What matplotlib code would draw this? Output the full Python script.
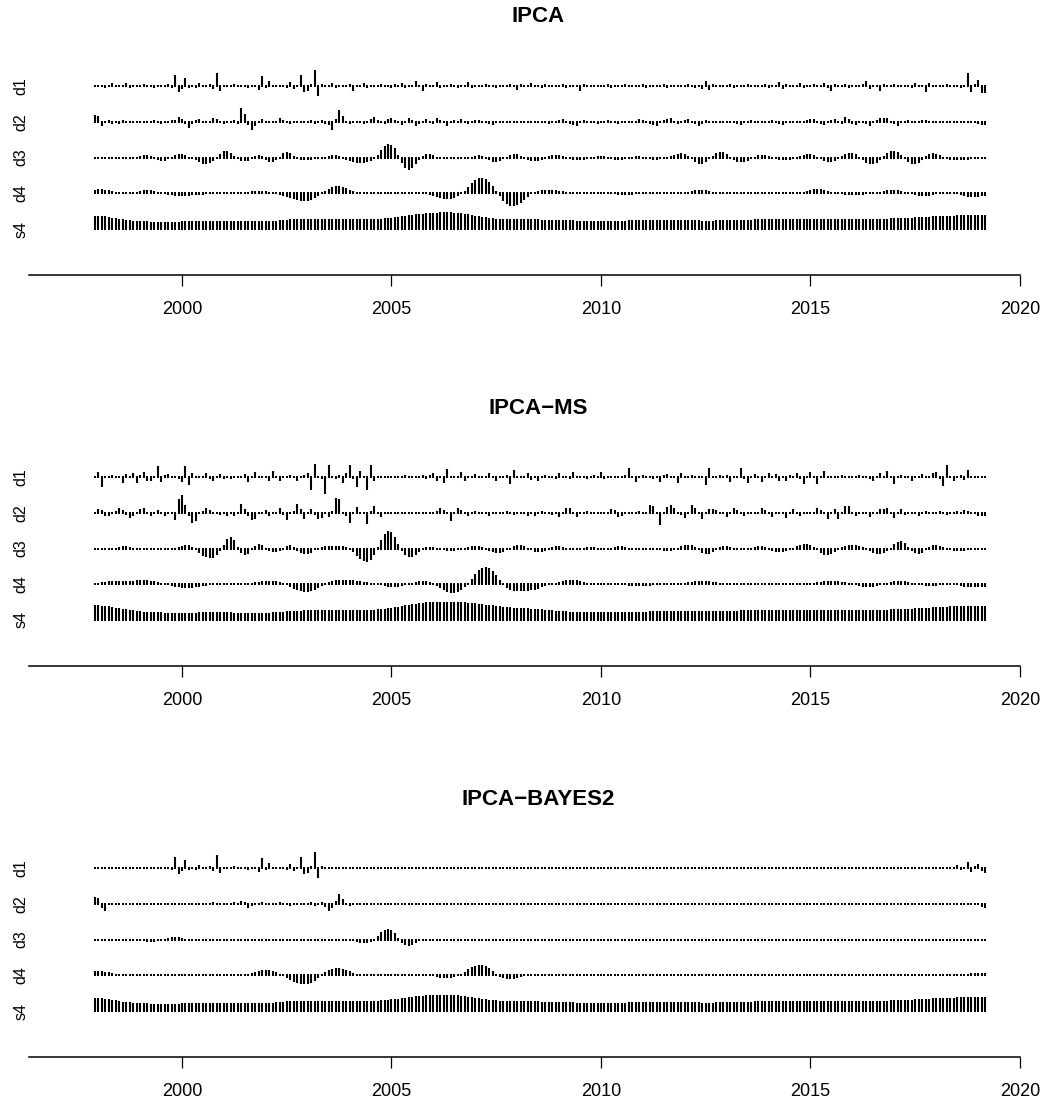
import numpy as np
import matplotlib
matplotlib.use("Agg")
from matplotlib import pyplot as plt

plt.rcParams["font.family"] = ["Liberation Sans", "DejaVu Sans"]

# monthly series, first observation Dec 1997
start_year = 1997 + 11 / 12
titles = ["IPCA", "IPCA\u2212MS", "IPCA\u2212BAYES2"]
levels = ["d1", "d2", "d3", "d4", "s4"]
year_ticks = [2000, 2005, 2010, 2015, 2020]

# MRA components (scaled units)
ipca_d1 = [
    1, 0, 1, -2, 1, 3, -1, 0, 1, 3, -2, 1,
    -1, 0, 2, -1, 1, -2, 0, 1, -1, 2, -2, 11,
    -6, -3, 8, -2, 1, -2, 3, -1, 0, 2, -3, 13,
    -5, 1, -1, 0, 2, -1, 0, 1, -2, 1, -1, -4,
    10, -2, 5, -1, 1, -1, 0, -2, 4, -3, 1, 11,
    -6, -5, 2, 16, -10, 2, 1, -1, 3, -2, 0, 1,
    -1, 2, -5, 1, 0, 3, -2, 1, -1, 0, 2, -1,
    1, -2, 2, -1, 3, -2, 1, 0, 5, -1, -5, 2,
    -1, 1, 4, -2, 1, -1, 2, 0, -2, 1, -1, 4,
    -2, 1, 0, -1, 2, -1, 1, -2, 0, 1, -1, 2,
    -1, -4, 2, 0, -1, 3, -1, 1, -2, 2, 0, -1,
    1, -1, 2, -2, 1, 0, -1, -5, 2, 1, -1, 0,
    1, -1, 0, 2, -2, 1, 0, -1, 2, -1, 1, 0,
    -1, 2, -2, 1, 0, 1, -1, 2, -2, 1, 0, -1,
    1, -1, 2, 0, -2, 1, -3, 5, -4, 2, -1, 1,
    0, -1, 2, -2, 1, 0, -1, 2, -1, 1, 0, -1,
    2, -2, 1, 0, 4, -3, 2, -1, 1, 0, 3, -2,
    1, -1, 2, -1, 0, 3, -2, -5, 2, 1, -1, 2,
    -2, 1, 0, -1, 2, 5, -3, 1, 0, -5, 2, 1,
    -1, 2, 0, -1, 1, 0, -2, 3, -1, 1, -6, 3,
    -1, 1, 0, -1, 2, -1, 1, 0, -2, 1, 13, -6,
    2, 6, -7, -7,
]
ipca_d2 = [
    7, 6, -4, -1, 2, -2, 1, -2, 2, 1, 0, 0,
    -1, 1, 0, 0, 1, 2, 1, -2, -1, -1, 2, 2,
    5, 3, -2, -6, -2, 2, 3, 1, 0, -1, 4, 3,
    -1, -2, -1, 0, 2, -2, 14, 8, -3, -8, -4, 0,
    3, 1, 0, -1, 1, 4, 2, -1, -2, 0, 1, 1,
    -1, 1, 2, -2, -1, 2, -2, -3, -8, 3, 12, 6,
    -1, -2, -1, 0, 1, -2, 1, 3, 5, 2, -1, -2,
    3, 4, 2, -1, -3, 1, 4, 2, -4, -2, 1, 3,
    1, -2, 4, 2, -1, -4, -1, 2, 1, 3, 1, -2,
    -1, 2, 2, 1, -1, -2, -3, -1, 1, 1, 1, -1,
    -1, 0, 1, 1, 0, -1, -1, 0, 1, 0, -2, -1,
    1, 2, 3, 1, -2, -3, -4, -1, 2, 1, 0, -1,
    -2, -1, 1, 2, 1, -1, -2, -1, 1, 1, 0, 1,
    3, 2, 1, -2, -3, -4, -1, 2, 3, 4, 1, -2,
    -1, 2, 3, 1, -2, -4, -2, 2, 1, -1, 0, -1,
    1, 1, 0, -1, -2, -3, -1, 1, 2, 1, 0, -1,
    -1, 1, 2, 1, -2, -3, -1, 1, 1, 0, -1, 1,
    2, 3, 3, 1, -2, -3, -1, 2, 3, 0, -2, 5,
    3, -2, -3, -1, 1, -2, -4, -1, 2, 4, 4, 4,
    1, -2, -4, -1, 1, 2, 1, -1, -1, 2, 2, 1,
    -1, -1, 0, 1, 1, 0, -1, -1, 0, 1, 1, 0,
    -1, -2, -3, -3,
]
ipca_d3 = [
    0, -1, 0, 1, 0, -1, -1, 0, 1, 1, 0, -1,
    1, 2, 3, 3, 2, -1, -2, -3, -3, -1, 1, 3,
    4, 4, 3, 1, -1, -2, -4, -6, -6, -5, -3, 1,
    4, 7, 7, 5, 2, -1, -3, -3, -3, -1, 2, 3,
    2, -2, -4, -4, -2, 1, 5, 6, 5, 2, -1, -2,
    -2, -2, -2, -1, -1, 0, 1, 2, 3, 3, 2, 0,
    -2, -3, -4, -5, -5, -5, -4, -3, -1, 3, 8, 12,
    14, 13, 10, 3, -5, -10, -12, -10, -6, -2, 2, 4,
    4, 3, 1, 0, -1, -1, -1, 0, 0, 0, 0, 1,
    1, 2, 3, 2, 0, -2, -4, -4, -3, -1, 1, 3,
    4, 4, 2, 0, -2, -3, -3, -3, -2, 0, 2, 3,
    3, 3, 2, 0, -1, -2, -2, -2, -2, -1, 0, 1,
    2, 2, 2, 1, -1, -2, -2, -2, -1, 0, 1, 2,
    2, 1, 0, -1, -2, -2, -1, 0, 1, 2, 3, 4,
    5, 4, 2, -1, -4, -6, -6, -4, -1, 2, 5, 6,
    6, 4, 1, -2, -4, -4, -4, -3, -1, 1, 3, 3,
    3, 2, 0, -1, -2, -2, -2, -2, -1, 0, 2, 3,
    4, 4, 3, 1, -1, -3, -4, -4, -3, -1, 2, 4,
    5, 5, 4, 1, -2, -5, -6, -6, -5, -2, 2, 5,
    7, 7, 6, 3, -1, -4, -6, -6, -5, -2, 2, 4,
    5, 4, 3, 0, -1, -2, -2, -2, -2, -2, -2, -1,
    0, 1, 1, 1,
]
ipca_d4 = [
    3, 4, 4, 3, 3, 2, 1, 0, 0, 0, 0, 1,
    1, 2, 3, 3, 3, 2, 1, 0, -1, -2, -2, -3,
    -3, -3, -3, -3, -2, -2, -2, -2, -1, -1, 0, 0,
    1, 1, 1, 1, 1, 1, 1, 1, 1, 2, 2, 2,
    2, 2, 1, 0, -1, -2, -3, -4, -5, -6, -7, -8,
    -8, -8, -7, -5, -3, -1, 2, 4, 6, 7, 7, 6,
    5, 3, 2, 1, 0, 0, 0, 0, 0, 0, 0, 0,
    0, 0, 0, 0, 0, 0, 0, 0, 0, 0, 0, -1,
    -2, -3, -4, -5, -6, -6, -6, -5, -3, -1, 2, 6,
    10, 13, 15, 15, 14, 11, 7, 2, -3, -8, -11, -13,
    -13, -12, -10, -7, -4, -1, 1, 2, 3, 3, 3, 3,
    3, 2, 2, 1, 0, 0, 0, 0, 0, 0, -1, -1,
    -1, -1, -1, -1, -1, -1, -2, -2, -2, -2, -2, -1,
    -1, 0, 0, 1, 1, 1, 0, 0, 0, 0, 0, 0,
    0, 0, 1, 2, 3, 3, 3, 3, 2, 1, 0, 0,
    -1, -1, -1, -1, -1, -1, -1, -1, 0, 0, 0, 0,
    0, 0, 0, 0, 0, 0, -1, -1, -1, 0, 0, 1,
    2, 3, 4, 4, 4, 3, 2, 1, 0, -1, -1, -2,
    -2, -2, -2, -2, -2, -1, -1, 0, 0, 1, 2, 3,
    3, 3, 3, 2, 1, 0, -1, -2, -3, -3, -3, -3,
    -2, -1, 0, 1, 1, 1, 0, -1, -2, -3, -4, -4,
    -4, -4, -3, -3,
]
ipca_s4 = [
    13.5, 13.3, 13.0, 12.6, 12.1, 11.5, 10.8, 10.2, 9.6, 9.1, 8.7, 8.4,
    8.1, 7.9, 7.7, 7.6, 7.5, 7.4, 7.4, 7.3, 7.3, 7.3, 7.4, 7.4,
    7.5, 7.6, 7.7, 7.8, 7.9, 8.0, 8.1, 8.2, 8.3, 8.3, 8.4, 8.4,
    8.4, 8.4, 8.3, 8.3, 8.2, 8.1, 8.0, 7.9, 7.8, 7.7, 7.6, 7.6,
    7.6, 7.7, 7.9, 8.2, 8.5, 8.9, 9.2, 9.5, 9.7, 9.8, 9.9, 10.0,
    10.0, 10.0, 10.0, 10.0, 10.0, 10.0, 10.0, 10.0, 9.9, 9.9, 9.8, 9.8,
    9.7, 9.7, 9.6, 9.6, 9.6, 9.6, 9.7, 9.8, 9.9, 10.1, 10.3, 10.6,
    10.9, 11.3, 11.7, 12.2, 12.7, 13.2, 13.7, 14.2, 14.7, 15.1, 15.5, 15.8,
    16.1, 16.3, 16.5, 16.6, 16.7, 16.7, 16.6, 16.4, 16.1, 15.7, 15.2, 14.6,
    14.0, 13.4, 12.8, 12.2, 11.7, 11.2, 10.8, 10.5, 10.3, 10.2, 10.1, 10.0,
    10.0, 10.0, 10.0, 9.9, 9.9, 9.8, 9.7, 9.6, 9.5, 9.4, 9.3, 9.2,
    9.1, 9.0, 8.9, 8.8, 8.7, 8.6, 8.5, 8.4, 8.3, 8.3, 8.2, 8.2,
    8.2, 8.2, 8.2, 8.3, 8.3, 8.4, 8.4, 8.5, 8.5, 8.6, 8.7, 8.8,
    8.9, 9.0, 9.1, 9.2, 9.3, 9.3, 9.4, 9.4, 9.4, 9.3, 9.2, 9.1,
    9.0, 8.9, 8.8, 8.7, 8.6, 8.6, 8.5, 8.5, 8.5, 8.5, 8.6, 8.6,
    8.7, 8.8, 8.9, 9.0, 9.1, 9.2, 9.3, 9.4, 9.5, 9.6, 9.7, 9.7,
    9.8, 9.8, 9.9, 9.9, 10.0, 10.0, 10.0, 10.0, 10.0, 10.0, 9.9, 9.9,
    9.8, 9.8, 9.7, 9.7, 9.6, 9.6, 9.6, 9.6, 9.6, 9.6, 9.6, 9.7,
    9.7, 9.7, 9.8, 9.8, 9.9, 10.0, 10.0, 10.1, 10.2, 10.3, 10.4, 10.5,
    10.6, 10.7, 10.8, 11.0, 11.1, 11.3, 11.5, 11.7, 11.9, 12.1, 12.3, 12.5,
    12.7, 12.9, 13.0, 13.2, 13.3, 13.4, 13.5, 13.6, 13.6, 13.7, 13.7, 13.7,
    13.8, 13.8, 13.8, 13.8,
]

ms_d1 = [
    1, 5, -10, 1, -1, 2, -1, 1, -6, 3, -1, 4,
    -6, 2, 5, -4, -4, 1, 11, -5, 2, 3, -1, 1,
    -2, -5, 11, -8, 4, -1, 1, -1, 4, -2, -4, 1,
    3, -2, 1, -2, 1, 0, -1, 3, -5, 1, 5, -1,
    1, -1, -4, 6, -1, -4, 1, 0, 2, -1, -4, 1,
    2, 4, -13, 13, 1, -2, -17, 12, 1, -2, 2, -6,
    4, 12, -2, -10, 6, 1, -13, 12, -4, 1, 0, -1,
    1, 0, -1, 1, -1, 2, -1, 1, 0, -1, 2, -2,
    2, 4, -4, 1, -6, 8, -1, 1, -1, 5, -4, 1,
    0, 3, -1, 1, -1, 4, -1, -4, 1, 0, 2, -7,
    7, -1, 1, 0, 4, -3, 1, -4, 1, 2, -1, 1,
    -2, 4, -1, 1, -2, 5, -1, 1, 0, -2, 1, 2,
    -1, 5, -2, 1, 0, -1, 1, -1, 2, 9, -1, -5,
    1, 2, -1, 1, -2, 1, -5, 2, 3, -1, 1, -6,
    4, 1, -1, 2, -1, 1, 0, -8, 9, -1, 1, 2,
    -1, 2, -5, 1, -1, 9, -2, -6, 1, 3, -1, -5,
    1, 4, -1, 3, -4, 1, -4, 2, 1, 4, -2, -7,
    1, 5, -1, -7, 1, 6, -1, 1, 0, -1, 2, -1,
    1, 0, -1, 2, -1, 1, -2, -4, 1, 4, -1, 6,
    -1, -7, 1, 2, -1, 1, -4, 1, 0, 3, -1, 1,
    4, 5, -2, -9, 12, -1, -4, 1, 2, -3, 7, -1,
    1, 0, -1, 1,
]
ms_d2 = [
    1, 4, 3, -3, -3, 1, 2, 5, 3, -2, -5, -3,
    1, 4, 5, 1, -3, -1, 3, 1, -3, -1, -1, -7,
    14, 18, 8, -3, -10, -8, -1, 2, 5, 3, 1, -1,
    -2, 1, -3, -1, -3, 1, 9, 4, -3, -7, -6, 1,
    0, 3, -3, 0, 1, 5, -2, -7, -1, 2, 9, 4,
    -6, 1, 4, -2, -6, -5, 1, -4, 2, 15, 14, 1,
    -3, -10, 1, 6, 0, -1, -11, 2, 7, -1, -4, 1,
    1, 0, -1, 1, 0, -1, 1, 0, -1, 1, 1, -1,
    0, -1, 2, 5, 3, -1, -8, 1, 5, 3, -1, -3,
    1, 2, 0, -1, -1, -3, 0, 1, 1, 0, 2, -1,
    -2, 0, 1, -1, -3, -1, -3, 1, 2, 0, -1, -2,
    -1, -4, 1, 5, 5, -1, -4, -1, 1, 2, 0, -1,
    0, 1, 1, 0, 4, 3, -4, -3, 0, 1, 0, 1,
    2, 0, 1, 8, 7, 1, -12, 1, 6, 8, 5, -1,
    -2, -5, 1, 8, 5, -1, -6, 1, 4, 4, 3, 0,
    -1, -4, 1, 5, 3, -1, -3, 0, 1, 0, 1, 5,
    3, -1, -4, -1, 1, 0, -5, -1, 4, 1, -3, 1,
    0, 1, 1, 5, 3, 0, -6, 1, 4, -6, 1, 7,
    7, 1, -3, 0, 1, -1, -4, 1, 1, 4, 4, 5,
    1, -5, 1, 4, -2, 0, 1, 0, -3, 1, 2, 0,
    1, 0, 2, 1, -2, 0, 1, 2, 0, 3, 2, 1,
    -1, -3, -3, -3,
]
ms_d3 = [
    0, -1, -1, 0, 0, 1, 1, 2, 3, 3, 2, 0,
    -1, -1, 0, 1, 1, 0, 0, 0, 0, 1, 1, 1,
    2, 3, 4, 4, 2, -1, -4, -7, -8, -9, -9, -6,
    -2, 4, 10, 12, 9, 2, -4, -6, -5, -1, 3, 5,
    4, 1, -2, -3, -3, -2, 1, 3, 4, 2, -2, -4,
    -5, -5, -4, -1, 1, 2, 3, 3, 3, 3, 3, 3,
    2, 0, -3, -7, -10, -12, -13, -11, -6, 2, 9, 15,
    18, 17, 12, 5, -2, -6, -8, -8, -6, -3, 0, 2,
    2, 2, 1, 0, -1, -2, -2, -2, -1, 0, 1, 2,
    3, 3, 3, 2, 0, -2, -3, -4, -4, -3, -1, 1,
    3, 4, 4, 3, 1, -1, -3, -3, -3, -2, 0, 2,
    3, 3, 2, 1, -1, -1, -1, 0, 1, 2, 2, 2,
    1, 0, -1, -1, 1, 2, 3, 3, 2, 1, 0, 0,
    0, 0, 0, 0, 0, 0, -1, -2, -2, -2, -1, 1,
    3, 4, 4, 4, 2, -1, -4, -5, -5, -3, 0, 2,
    3, 3, 2, 1, 0, 0, 0, 0, 1, 2, 3, 3,
    2, 0, -2, -3, -3, -3, -2, -1, 1, 3, 4, 5,
    5, 4, 2, -1, -4, -6, -6, -5, -3, 0, 2, 3,
    4, 4, 4, 3, 2, 0, -2, -4, -5, -5, -4, -2,
    1, 5, 7, 8, 6, 2, -2, -4, -5, -4, -1, 2,
    4, 4, 3, 2, 0, -1, -2, -2, -2, -2, -1, 0,
    0, 1, 1, 1,
]
ms_d4 = [
    0, 1, 2, 2, 3, 3, 3, 3, 3, 3, 3, 3,
    4, 4, 4, 4, 3, 3, 2, 1, 0, -1, -2, -3,
    -3, -4, -4, -4, -4, -3, -3, -2, -2, -1, 0, 0,
    1, 1, 1, 1, 1, 1, 1, 1, 1, 1, 2, 2,
    3, 3, 3, 3, 3, 2, 1, -1, -3, -5, -6, -7,
    -8, -8, -7, -6, -4, -2, 0, 2, 3, 4, 4, 4,
    4, 4, 4, 3, 3, 2, 2, 1, 0, 0, -1, -2,
    -3, -3, -3, -3, -2, -1, 0, 1, 2, 3, 3, 3,
    2, 0, -2, -4, -6, -8, -9, -9, -8, -6, -3, 1,
    5, 10, 14, 16, 17, 16, 13, 9, 4, -1, -4, -6,
    -7, -7, -7, -7, -7, -6, -6, -5, -3, -2, -1, 0,
    1, 2, 3, 4, 4, 4, 4, 3, 2, 1, 1, 1,
    0, 0, 0, 0, 0, 0, -1, -1, -1, -2, -2, -2,
    -2, -2, -2, -2, -1, -1, -1, 0, 0, 0, 0, 0,
    1, 1, 2, 2, 3, 3, 3, 3, 3, 2, 2, 1,
    0, 0, -1, -1, -1, -1, -1, -1, -1, 0, 0, 0,
    0, 0, 0, 0, 0, 0, 0, 0, 0, 0, 0, 0,
    0, 1, 1, 2, 2, 3, 3, 3, 3, 3, 2, 2,
    1, 0, -1, -2, -3, -3, -3, -3, -2, -1, 0, 1,
    2, 3, 3, 3, 3, 2, 1, 0, -1, -1, -2, -2,
    -2, -2, -1, -1, 0, 0, 0, -1, -2, -3, -3, -3,
    -3, -3, -3, -3,
]
ms_s4 = [
    15.0, 14.8, 14.5, 14.1, 13.6, 13.0, 12.4, 11.8, 11.2, 10.6, 10.1, 9.6,
    9.2, 8.8, 8.5, 8.2, 8.0, 7.8, 7.7, 7.6, 7.5, 7.5, 7.4, 7.4,
    7.4, 7.4, 7.4, 7.4, 7.5, 7.5, 7.6, 7.6, 7.7, 7.7, 7.7, 7.7,
    7.7, 7.7, 7.6, 7.6, 7.5, 7.5, 7.4, 7.3, 7.3, 7.2, 7.2, 7.2,
    7.2, 7.3, 7.4, 7.6, 7.8, 8.1, 8.4, 8.7, 9.0, 9.2, 9.4, 9.5,
    9.6, 9.7, 9.7, 9.8, 9.8, 9.8, 9.8, 9.8, 9.8, 9.8, 9.8, 9.8,
    9.8, 9.8, 9.8, 9.8, 9.9, 10.0, 10.1, 10.3, 10.5, 10.8, 11.1, 11.5,
    11.9, 12.4, 12.9, 13.5, 14.1, 14.7, 15.3, 15.9, 16.4, 16.9, 17.3, 17.7,
    18.0, 18.2, 18.4, 18.5, 18.5, 18.5, 18.4, 18.3, 18.1, 17.9, 17.6, 17.3,
    17.0, 16.6, 16.2, 15.8, 15.4, 15.0, 14.6, 14.2, 13.8, 13.4, 13.1, 12.8,
    12.5, 12.2, 12.0, 11.8, 11.6, 11.4, 11.2, 11.0, 10.7, 10.4, 10.1, 9.8,
    9.5, 9.2, 8.9, 8.7, 8.5, 8.3, 8.1, 8.0, 7.9, 7.8, 7.8, 7.7,
    7.7, 7.7, 7.7, 7.7, 7.7, 7.7, 7.8, 7.8, 7.9, 8.0, 8.1, 8.2,
    8.3, 8.4, 8.5, 8.6, 8.7, 8.8, 8.9, 9.0, 9.0, 9.1, 9.1, 9.2,
    9.2, 9.2, 9.3, 9.3, 9.3, 9.3, 9.3, 9.3, 9.3, 9.3, 9.3, 9.3,
    9.3, 9.3, 9.3, 9.4, 9.5, 9.6, 9.7, 9.8, 9.9, 10.0, 10.1, 10.2,
    10.2, 10.3, 10.3, 10.3, 10.3, 10.3, 10.3, 10.3, 10.3, 10.3, 10.3, 10.3,
    10.3, 10.3, 10.3, 10.3, 10.3, 10.3, 10.3, 10.3, 10.3, 10.3, 10.3, 10.3,
    10.3, 10.3, 10.3, 10.3, 10.3, 10.3, 10.3, 10.3, 10.3, 10.4, 10.4, 10.5,
    10.6, 10.7, 10.8, 10.9, 11.0, 11.2, 11.4, 11.6, 11.8, 12.0, 12.3, 12.5,
    12.7, 12.9, 13.1, 13.3, 13.5, 13.7, 13.9, 14.0, 14.1, 14.2, 14.3, 14.3,
    14.3, 14.3, 14.3, 14.3,
]

bayes_d1 = [
    0, 0, 0, 0, 0, 0, 0, 0, 0, 0, 0, 0,
    0, 0, 0, 0, 0, 0, 0, 0, 0, 0, -2, 11,
    -6, -3, 8, -2, 1, -2, 3, -1, 0, 2, -3, 13,
    -5, 1, -1, 0, 2, -1, 0, 1, -2, 1, -1, -4,
    10, -2, 5, -1, 1, -1, 0, -2, 4, -3, 1, 11,
    -6, -5, 2, 16, -10, 2, 1, -1, 0, 0, 0, 0,
    0, 0, 0, 0, 0, 0, 0, 0, 0, 0, 0, 0,
    0, 0, 0, 0, 0, 0, 0, 0, 0, 0, 0, 0,
    0, 0, 0, 0, 0, 0, 0, 0, 0, 0, 0, 0,
    0, 0, 0, 0, 0, 0, 0, 0, 0, 0, 0, 0,
    0, 0, 0, 0, 0, 0, 0, 0, 0, 0, 0, 0,
    0, 0, 0, 0, 0, 0, 0, 0, 0, 0, 0, 0,
    0, 0, 0, 0, 0, 0, 0, 0, 0, 0, 0, 0,
    0, 0, 0, 0, 0, 0, 0, 0, 0, 0, 0, 0,
    0, 0, 0, 0, 0, 0, 0, 0, 0, 0, 0, 0,
    0, 0, 0, 0, 0, 0, 0, 0, 0, 0, 0, 0,
    0, 0, 0, 0, 0, 0, 0, 0, 0, 0, 0, 0,
    0, 0, 0, 0, 0, 0, 0, 0, 0, 0, 0, 0,
    0, 0, 0, 0, 0, 0, 0, 0, 0, 0, 0, 0,
    0, 0, 0, 0, 0, 0, 0, 0, 0, 0, 0, 0,
    0, 0, 0, 0, 0, 1, -1, 3, -2, 1, 6, -4,
    2, 4, -3, -5,
]
bayes_d2 = [
    7, 6, -4, -7, -1, 1, 0, 0, 0, 0, 0, 0,
    0, 0, 0, 0, 0, 0, -1, 1, 0, 0, 0, 0,
    0, 1, -1, 0, 1, -1, 1, 0, -1, 1, 2, 1,
    -1, -1, 0, 1, 2, -1, 3, 2, -4, -2, 0, 1,
    2, 0, -1, 0, 1, 2, 1, -1, -2, 0, 1, 1,
    -1, 1, 2, -2, -1, 2, -3, -7, -4, 3, 10, 5,
    -1, -2, -1, 0, 1, 0, 0, 0, 0, 0, 0, 0,
    0, 0, 0, 0, 0, 0, 0, 0, 0, 0, 0, 0,
    0, 0, 0, 0, 0, 0, 0, 0, 0, 0, 0, 0,
    0, 0, 0, 0, 0, 0, 0, 0, 0, 0, 0, 0,
    0, 0, 0, 0, 0, 0, 0, 0, 0, 0, 0, 0,
    0, 0, 0, 0, 0, 0, 0, 0, 0, 0, 0, 0,
    0, 0, 0, 0, 0, 0, 0, 0, 0, 0, 0, 0,
    0, 0, 0, 0, 0, 0, 0, 0, 0, 0, 0, 0,
    0, 0, 0, 0, 0, 0, 0, 0, 0, 0, 0, 0,
    0, 0, 0, 0, 0, 0, 0, 0, 0, 0, 0, 0,
    0, 0, 0, 0, 0, 0, 0, 0, 0, 0, 0, 0,
    0, 0, 0, 0, 0, 0, 0, 0, 0, 0, 0, 0,
    0, 0, 0, 0, 0, 0, 0, 0, 0, 0, 0, 0,
    0, 0, 0, 0, 0, 0, 0, 0, 0, 0, 0, 0,
    0, 0, 0, 0, 0, 0, 0, 0, 0, 0, 1, 1,
    0, -1, -3, -4,
]
bayes_d3 = [
    0, 0, 0, 0, 0, 0, 0, 0, 0, 0, 0, 0,
    0, 0, -1, -2, -2, -2, -1, 0, 1, 2, 3, 3,
    3, 2, 1, 0, -1, -1, -1, 0, 0, 1, 1, 1,
    0, -1, -1, -1, 0, 0, 0, 0, 0, 0, 0, 0,
    1, 1, 1, 0, -1, -1, -1, 0, 1, 1, 1, 0,
    0, -1, -1, -1, 0, 0, 0, 0, 0, 0, 0, 0,
    0, 0, -1, -2, -3, -3, -3, -2, 0, 4, 8, 10,
    11, 10, 7, 2, -3, -5, -6, -5, -3, -1, 1, 1,
    1, 1, 0, 0, 0, 0, 0, 0, 0, 0, 0, 0,
    0, 0, 0, 0, 0, 0, 0, 0, 0, 0, 0, 0,
    0, 0, 0, 0, 0, 0, 0, 0, 0, 0, 0, 0,
    0, 0, 0, 0, 0, 0, 0, 0, 0, 0, 0, 0,
    0, 0, 0, 0, 0, 0, 0, 0, 0, 0, 0, 0,
    0, 0, 0, 0, 0, 0, 0, 0, 0, 0, 0, 0,
    0, 0, 0, 0, 0, 0, 0, 0, 0, 0, 0, 0,
    0, 0, 0, 0, 0, 0, 0, 0, 0, 0, 0, 0,
    0, 0, 0, 0, 0, 0, 0, 0, 0, 0, 0, 0,
    0, 0, 0, 0, 0, 0, 0, 0, 0, 0, 0, 0,
    0, 0, 0, 0, 0, 0, 0, 0, 0, 0, 0, 0,
    0, 0, 0, 0, 0, 0, 0, 0, 0, 0, 0, 0,
    0, 0, 0, 0, 0, 0, 0, 0, 0, 0, 0, 0,
    0, 0, 0, 0,
]
bayes_d4 = [
    4, 4, 4, 3, 3, 2, 1, 0, 0, 0, 0, -1,
    -1, -1, -1, -1, -1, -1, -1, -1, -1, -1, -1, -1,
    -1, -1, -1, -1, 0, 0, 0, 0, 0, 0, 0, 0,
    0, 0, 0, 0, 0, 0, 0, 0, 1, 2, 3, 4,
    5, 5, 5, 4, 3, 1, -1, -3, -5, -7, -8, -9,
    -9, -9, -8, -6, -3, 0, 3, 5, 6, 7, 7, 6,
    5, 4, 2, 1, 0, 0, -1, -1, -1, -1, -1, -1,
    -1, -1, -1, -1, 0, 0, 0, 0, 0, 0, 0, 0,
    -1, -1, -2, -3, -3, -3, -3, -2, -1, 1, 3, 6,
    8, 9, 10, 10, 9, 7, 4, 1, -2, -3, -4, -4,
    -4, -3, -2, -1, 0, 0, 1, 1, 1, 1, 1, 1,
    1, 1, 1, 0, 0, 0, 0, 0, 0, 0, 0, 0,
    0, 0, 0, 0, 0, 0, 0, 0, 0, 0, 0, 0,
    0, 0, 0, 0, 0, 0, 0, 0, 0, 0, 0, 0,
    0, 0, 0, 1, 1, 1, 1, 1, 1, 0, 0, 0,
    0, 0, 0, 0, 0, 0, 0, 0, 0, 0, 0, 0,
    0, 0, 0, 0, 0, 0, 0, 0, 0, 0, 0, 0,
    0, 0, 1, 1, 1, 1, 1, 0, 0, 0, 0, 0,
    0, 0, 0, 0, 0, 0, 0, 0, 0, 0, 0, 0,
    0, 0, 0, 0, 0, 0, 0, 0, 0, 0, 0, 0,
    0, 0, 0, 0, 0, 0, 1, 1, 1, 1, 1, 2,
    2, 2, 2, 2,
]
bayes_s4 = [
    13.2, 13.0, 12.7, 12.3, 11.8, 11.2, 10.6, 10.0, 9.5, 9.0, 8.6, 8.3,
    8.0, 7.8, 7.7, 7.6, 7.5, 7.4, 7.4, 7.3, 7.3, 7.3, 7.4, 7.4,
    7.5, 7.6, 7.7, 7.8, 7.9, 8.0, 8.1, 8.2, 8.3, 8.4, 8.4, 8.5,
    8.5, 8.5, 8.4, 8.4, 8.3, 8.2, 8.1, 8.0, 7.9, 7.8, 7.8, 7.8,
    7.8, 7.9, 8.1, 8.4, 8.7, 9.0, 9.3, 9.6, 9.8, 9.9, 10.0, 10.1,
    10.1, 10.1, 10.1, 10.1, 10.1, 10.1, 10.0, 10.0, 9.9, 9.9, 9.8, 9.8,
    9.7, 9.7, 9.7, 9.7, 9.7, 9.8, 9.9, 10.0, 10.2, 10.4, 10.6, 10.9,
    11.2, 11.6, 12.0, 12.4, 12.9, 13.3, 13.8, 14.2, 14.6, 15.0, 15.3, 15.6,
    15.8, 16.0, 16.1, 16.2, 16.2, 16.2, 16.1, 15.9, 15.6, 15.2, 14.8, 14.3,
    13.8, 13.2, 12.7, 12.2, 11.7, 11.3, 10.9, 10.6, 10.4, 10.2, 10.1, 10.0,
    10.0, 10.0, 9.9, 9.9, 9.8, 9.8, 9.7, 9.6, 9.5, 9.4, 9.3, 9.2,
    9.1, 9.0, 8.9, 8.8, 8.7, 8.6, 8.5, 8.4, 8.3, 8.3, 8.2, 8.2,
    8.2, 8.2, 8.2, 8.3, 8.3, 8.4, 8.4, 8.5, 8.5, 8.6, 8.7, 8.8,
    8.9, 9.0, 9.1, 9.2, 9.3, 9.3, 9.4, 9.4, 9.4, 9.3, 9.2, 9.1,
    9.0, 8.9, 8.8, 8.7, 8.6, 8.6, 8.5, 8.5, 8.5, 8.5, 8.6, 8.6,
    8.7, 8.8, 8.9, 9.0, 9.1, 9.2, 9.3, 9.4, 9.5, 9.6, 9.7, 9.7,
    9.8, 9.8, 9.9, 9.9, 10.0, 10.0, 10.0, 10.0, 10.0, 10.0, 9.9, 9.9,
    9.8, 9.8, 9.7, 9.7, 9.6, 9.6, 9.6, 9.6, 9.6, 9.6, 9.6, 9.7,
    9.7, 9.7, 9.8, 9.8, 9.9, 10.0, 10.0, 10.1, 10.2, 10.3, 10.4, 10.5,
    10.6, 10.7, 10.8, 11.0, 11.1, 11.3, 11.5, 11.7, 11.9, 12.1, 12.3, 12.5,
    12.7, 12.9, 13.0, 13.2, 13.3, 13.4, 13.5, 13.6, 13.6, 13.7, 13.7, 13.7,
    13.8, 13.8, 13.8, 13.8,
]

panels = [
    [ipca_d1, ipca_d2, ipca_d3, ipca_d4, ipca_s4],
    [ms_d1, ms_d2, ms_d3, ms_d4, ms_s4],
    [bayes_d1, bayes_d2, bayes_d3, bayes_d4, bayes_s4],
]

# layout, in pixels of a 1042 x 1101 canvas
W, H = 1042, 1101
panel_h = 391
px_per_year = 41.9
x_2000 = 182
row_base = [86, 122, 157.5, 193, 229]
axis_y = 275
y_scale = 1.0  # pixels per data unit


def px_to_year(px):
    return 2000 + (px - x_2000) / px_per_year


fig = plt.figure(figsize=(W / 100, H / 100), dpi=100)

for k, (title, series) in enumerate(zip(titles, panels)):
    ax = fig.add_axes([0, 1 - (k + 1) * panel_h / H, 1, panel_h / H])
    ax.set_xlim(px_to_year(0), px_to_year(W))
    ax.set_ylim(panel_h, 0)
    ax.patch.set_visible(False)

    for r, (name, vals) in enumerate(zip(levels, series)):
        vals = np.asarray(vals, dtype=float)
        assert len(vals) == 256, (title, name, len(vals))
        months = start_year + np.arange(len(vals)) / 12
        base = row_base[r]
        ax.vlines(months, base, base - vals * y_scale, colors="black", linewidth=1.5)
        ax.plot(months, np.full(len(vals), base), linestyle="none", marker="s",
                markersize=1.5, markeredgewidth=0, color="black")
        ax.text(px_to_year(21), base, name, rotation=90, ha="center", va="center",
                fontsize=11.5)

    ax.text(px_to_year(538), 17, title, ha="center", va="center",
            fontsize=16, fontweight="bold")

    for side in ["top", "right", "left"]:
        ax.spines[side].set_visible(False)
    ax.spines["bottom"].set_position(("data", axis_y))
    ax.spines["bottom"].set_bounds(px_to_year(29), 2020)
    ax.spines["bottom"].set_linewidth(1.1)
    ax.set_xticks(year_ticks)
    ax.set_xticklabels([str(y) for y in year_ticks])
    ax.set_yticks([])
    ax.tick_params(axis="x", length=8, width=0.9, pad=11, labelsize=13)

plt.savefig("out.png", dpi=100)
plt.close(fig)
